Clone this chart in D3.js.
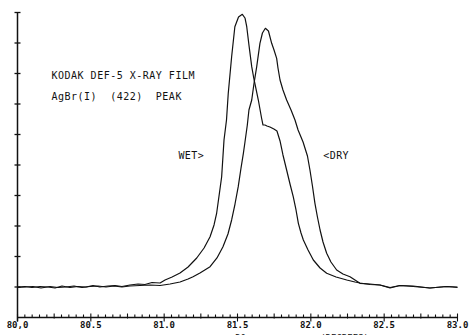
<!DOCTYPE html>
<html>
<head>
<meta charset="utf-8">
<script src="https://cdn.jsdelivr.net/npm/d3@7"></script>
<style>
  html, body { margin: 0; padding: 0; background: #fff; }
  svg { display: block; }
  text { font-family: "DejaVu Sans Mono", "Liberation Mono", monospace; fill: #111; white-space: pre; }
</style>
</head>
<body>
<svg id="chart" width="469" height="335"></svg>
<script>
// ---- data (2θ in degrees, intensity in arbitrary units) ----
const wetX = [80.000,80.051,80.099,80.153,80.208,80.256,80.303,80.358,80.412,80.467,80.515,80.562,80.617,80.665,80.712,80.767,80.822,80.869,80.917,80.972,81.006,81.054,81.108,81.163,81.222,81.272,81.313,81.340,81.358,81.374,81.392,81.408,81.425,81.437,81.460,81.482,81.507,81.533,81.551,81.563,81.578,81.597,81.612,81.642,81.664,81.674,81.687,81.701,81.721,81.748,81.769,81.790,81.810,81.835,81.858,81.880,81.899,81.915,81.933,81.949,81.981,82.017,82.063,82.108,82.172,82.245,82.301,82.335,82.403,82.471,82.540,82.608,82.697,82.812,82.926,83.000];
const wetY = [0.000,0.016,-0.016,0.016,0.000,-0.033,0.033,-0.016,0.016,0.000,0.049,0.000,0.033,0.049,0.016,0.066,0.098,0.082,0.148,0.131,0.230,0.328,0.459,0.656,0.951,1.279,1.649,2.033,2.426,2.984,3.616,4.820,5.475,6.351,7.551,8.534,8.852,8.941,8.820,8.534,7.934,7.223,6.820,6.131,5.541,5.311,5.311,5.279,5.246,5.180,5.115,4.787,4.328,3.836,3.377,2.961,2.525,2.089,1.770,1.541,1.213,0.885,0.623,0.449,0.328,0.230,0.164,0.131,0.082,0.066,-0.033,0.049,0.033,-0.033,0.016,-0.016];
const dryX = [80.000,80.051,80.106,80.160,80.222,80.276,80.331,80.385,80.440,80.494,80.549,80.603,80.658,80.712,80.767,80.835,80.903,80.972,81.040,81.108,81.163,81.197,81.244,81.313,81.360,81.401,81.435,81.460,81.483,81.505,81.524,81.540,81.551,81.567,81.578,81.597,81.612,81.631,81.653,81.670,81.690,81.711,81.733,81.749,81.767,81.776,81.790,81.810,81.835,81.865,81.892,81.913,81.947,81.977,81.994,82.011,82.028,82.045,82.063,82.083,82.108,82.137,82.176,82.219,82.267,82.301,82.335,82.403,82.471,82.540,82.608,82.697,82.812,82.926,83.000];
const dryY = [-0.016,0.000,0.016,-0.033,0.016,-0.016,0.000,0.033,-0.016,0.016,0.033,0.000,0.033,0.000,0.033,0.049,0.066,0.049,0.098,0.164,0.262,0.338,0.459,0.666,0.951,1.321,1.738,2.197,2.721,3.289,3.902,4.384,4.754,5.311,5.803,6.131,6.656,7.223,7.990,8.328,8.482,8.393,7.990,7.770,7.498,7.180,6.787,6.459,6.131,5.803,5.475,5.148,4.754,4.295,3.836,3.311,2.744,2.295,1.869,1.475,1.105,0.820,0.557,0.426,0.338,0.230,0.121,0.098,0.066,-0.016,0.049,0.016,-0.033,0.016,0.000];
const xTickValues = [80.0, 80.5, 81.0, 81.5, 82.0, 82.5, 83.0];
const xTickLabels = ["80,0", "80.5", "81.0", "81.5", "82.0", "82.5", "83.0"];
const yTickValues = [0, 1, 2, 3, 4, 5, 6, 7, 8, 9];
const titleLines = ["KODAK DEF-5 X-RAY FILM", "AgBr(I)  (422)  PEAK"];
const seriesLabels = [{text: "WET>", x: 81.097, y: 4.2}, {text: "<DRY", x: 82.085, y: 4.2}];

// ---- scales ----
const svg = d3.select("#chart");
const x = d3.scaleLinear().domain([80, 83]).range([17.5, 457.5]);
const y = d3.scaleLinear().domain([-1, 9]).range([317.5, 12.5]);

const ink = "#111";

// ---- x axis ----
const gx = svg.append("g");
gx.append("line").attr("x1", x(80)).attr("x2", x(83)).attr("y1", y(-1)).attr("y2", y(-1))
  .attr("stroke", ink).attr("stroke-width", 1.5);
const minor = d3.range(0, 61).map(i => 80 + i * 0.05);
gx.selectAll("line.minor").data(minor).enter().append("line")
  .attr("class", "minor")
  .attr("x1", d => x(d)).attr("x2", d => x(d))
  .attr("y1", (d, i) => i % 10 === 0 ? y(-1) - 4 : (i % 5 === 0 ? y(-1) - 4 : y(-1) - 3))
  .attr("y2", (d, i) => i % 10 === 0 ? y(-1) + 4 : (i % 5 === 0 ? y(-1) + 1 : y(-1)))
  .attr("stroke", ink).attr("stroke-width", 1.1);
gx.selectAll("text.xl").data(xTickValues).enter().append("text")
  .attr("class", "xl")
  .attr("x", d => x(d)).attr("y", 327.5)
  .attr("text-anchor", "middle")
  .attr("font-size", "9px").attr("font-weight", "bold")
  .text((d, i) => xTickLabels[i]);
// axis title fragments, cut by the bottom edge as in the reference
svg.append("text").attr("x", x(81.52)).attr("y", 340.5).attr("text-anchor", "middle")
  .attr("font-size", "9px").attr("fill", "#777").text("2θ");
svg.append("text").attr("x", x(82.23)).attr("y", 340.5).attr("text-anchor", "middle")
  .attr("font-size", "9px").attr("fill", "#777").text("(DEGREES)");

// ---- y axis ----
const gy = svg.append("g");
gy.append("line").attr("x1", x(80)).attr("x2", x(80)).attr("y1", y(9)).attr("y2", y(-1) + 4)
  .attr("stroke", ink).attr("stroke-width", 1.5);
gy.selectAll("line.yt").data(yTickValues).enter().append("line")
  .attr("class", "yt")
  .attr("x1", x(80) - 3).attr("x2", x(80) + 3)
  .attr("y1", d => y(d)).attr("y2", d => y(d))
  .attr("stroke", ink).attr("stroke-width", 1.3);

// ---- curves ----
const line = d3.line().x(d => x(d[0])).y(d => y(d[1]));
const wet = wetX.map((v, i) => [v, wetY[i]]);
const dry = dryX.map((v, i) => [v, dryY[i]]);
svg.append("path").datum(dry).attr("d", line).attr("fill", "none")
  .attr("stroke", ink).attr("stroke-width", 1.2).attr("stroke-linejoin", "round");
svg.append("path").datum(wet).attr("d", line).attr("fill", "none")
  .attr("stroke", ink).attr("stroke-width", 1.2).attr("stroke-linejoin", "round");

// ---- annotations ----
svg.selectAll("text.title").data(titleLines).enter().append("text")
  .attr("class", "title")
  .attr("x", 51.5).attr("y", (d, i) => 79 + i * 21)
  .attr("font-size", "10px").attr("letter-spacing", "0.5px")
  .attr("xml:space", "preserve")
  .text(d => d);
svg.selectAll("text.sl").data(seriesLabels).enter().append("text")
  .attr("class", "sl")
  .attr("x", d => x(d.x)).attr("y", d => y(d.y))
  .attr("font-size", "10px").attr("letter-spacing", "0.4px")
  .text(d => d.text);
</script>
</body>
</html>
